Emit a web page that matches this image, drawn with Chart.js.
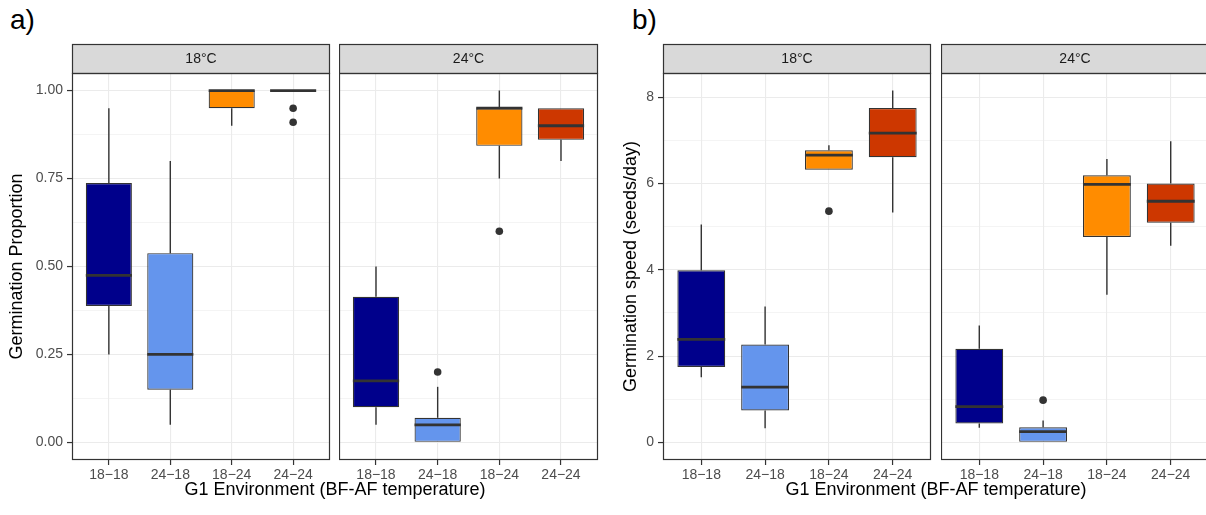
<!DOCTYPE html>
<html><head><meta charset="utf-8">
<script src="https://cdn.jsdelivr.net/npm/chart.js@4.4.1/dist/chart.umd.min.js"></script>
<style>
html,body{margin:0;padding:0;background:#fff;width:1206px;height:515px;overflow:hidden;position:relative;font-family:"Liberation Sans",Arial,sans-serif;}
canvas.fc{position:absolute;top:0;}
.lbl{position:absolute;font-size:28px;line-height:1;color:#000;}
.xt{position:absolute;font-size:18px;line-height:20px;color:#000;text-align:center;white-space:nowrap;}
</style></head><body>
<div class="lbl" style="left:10px;top:6px">a)</div>
<div class="lbl" style="left:632px;top:6px">b)</div>
<canvas id="a1" class="fc" style="left:0px" width="331" height="515"></canvas>
<canvas id="a2" class="fc" style="left:339px" width="260" height="515"></canvas>
<canvas id="b1" class="fc" style="left:600px" width="332" height="515"></canvas>
<canvas id="b2" class="fc" style="left:941px" width="269" height="515"></canvas>
<div class="xt" style="left:72px;width:526px;top:479px">G1 Environment (BF-AF temperature)</div>
<div class="xt" style="left:663px;width:546px;top:479px">G1 Environment (BF-AF temperature)</div>
<script>
// ---- data ----
const categories = ['18\u221218', '24\u221218', '18\u221224', '24\u221224'];
const boxColors = ['#00008B', '#6495ED', '#FF8C00', '#CD3700'];
const facetLabels = ['18°C', '24°C'];
// five-number summaries per category: [lower whisker, Q1, median, Q3, upper whisker]
const proportionAt18 = [[0.25, 0.388, 0.475, 0.737, 0.95], [0.05, 0.15, 0.25, 0.538, 0.80], [0.90, 0.95, 1.00, 1.00, 1.00], [1.00, 1.00, 1.00, 1.00, 1.00]];
const proportionAt18Outliers = [[], [], [], [0.95, 0.91]];
const proportionAt24 = [[0.05, 0.10, 0.175, 0.414, 0.50], [0.00, 0.00, 0.05, 0.07, 0.158], [0.75, 0.843, 0.95, 0.95, 1.00], [0.80, 0.86, 0.90, 0.95, 0.95]];
const proportionAt24Outliers = [[], [0.20], [0.60], []];
const speedAt18 = [[1.51, 1.75, 2.39, 3.99, 5.05], [0.33, 0.74, 1.28, 2.27, 3.15], [6.32, 6.32, 6.66, 6.77, 6.89], [5.33, 6.61, 7.17, 7.75, 8.155]];
const speedAt18Outliers = [[], [], [5.36], []];
const speedAt24 = [[0.34, 0.44, 0.83, 2.17, 2.71], [0.00, 0.00, 0.25, 0.35, 0.51], [3.42, 4.76, 5.98, 6.19, 6.57], [4.56, 5.09, 5.59, 6.00, 6.98]];
const speedAt24Outliers = [[], [0.98], [], []];
const proportionTicks = [0, 0.25, 0.5, 0.75, 1];
const speedTicks = [0, 2, 4, 6, 8];
const proportionTitle = 'Germination Proportion';
const speedTitle = 'Germination speed (seeds/day)';

const FAMILY = '"Liberation Sans", Arial, sans-serif';
const DARK = '#333333';

function dataRange(groups) {
  let lo = Infinity, hi = -Infinity;
  groups.forEach(g => g.forEach(arr => arr.forEach(v => { lo = Math.min(lo, v); hi = Math.max(hi, v); })));
  const pad = (hi - lo) * 0.05;
  return [lo - pad, hi + pad];
}

function withMinor(ticks) {
  const out = [];
  ticks.forEach((t, i) => {
    out.push({ value: t, minor: false });
    if (i < ticks.length - 1) out.push({ value: (t + ticks[i + 1]) / 2, minor: true });
  });
  return out;
}

function makeBoxPlugin(stats, stripText) {
  return {
    id: 'boxplotDraw',
    beforeDatasetsDraw(chart) {
      const xs = chart.scales.x, ys = chart.scales.y, ctx = chart.ctx;
      ctx.save();
      ctx.strokeStyle = DARK; ctx.lineWidth = 1.4;
      stats.forEach((s, i) => {
        const x = xs.getPixelForValue(i);
        ctx.beginPath();
        ctx.moveTo(x, ys.getPixelForValue(s[0])); ctx.lineTo(x, ys.getPixelForValue(s[1]));
        ctx.moveTo(x, ys.getPixelForValue(s[3])); ctx.lineTo(x, ys.getPixelForValue(s[4]));
        ctx.stroke();
      });
      ctx.restore();
    },
    afterDatasetsDraw(chart) {
      const xs = chart.scales.x, ys = chart.scales.y, ctx = chart.ctx;
      const meta = chart.getDatasetMeta(0);
      ctx.save();
      ctx.strokeStyle = DARK; ctx.lineWidth = 2.8; ctx.lineCap = 'butt';
      stats.forEach((s, i) => {
        const el = meta.data[i];
        const w = el.width;
        const x = xs.getPixelForValue(i);
        const y = ys.getPixelForValue(s[2]);
        ctx.beginPath();
        ctx.moveTo(x - w / 2, y); ctx.lineTo(x + w / 2, y);
        ctx.stroke();
      });
      ctx.restore();
    },
    afterDraw(chart) {
      const a = chart.chartArea, ctx = chart.ctx;
      ctx.save();
      ctx.lineWidth = 1.2; ctx.strokeStyle = DARK;
      ctx.fillStyle = '#D9D9D9';
      ctx.fillRect(a.left, 44, a.right - a.left, a.top - 44);
      ctx.strokeRect(a.left + 0.5, 44.5, a.right - a.left - 1, a.top - 44);
      ctx.strokeRect(a.left + 0.5, a.top + 0.5, a.right - a.left - 1, a.bottom - a.top - 1);
      ctx.fillStyle = '#1A1A1A';
      ctx.font = '14px ' + FAMILY;
      ctx.textAlign = 'center'; ctx.textBaseline = 'middle';
      ctx.fillText(stripText, (a.left + a.right) / 2, (44 + a.top) / 2 + 1);
      ctx.restore();
    }
  };
}

function makeFacet(id, stats, outliers, o) {
  const boxData = stats.map((s, i) => ({ x: i, y: [s[1], s[3]] }));
  const outData = [];
  outliers.forEach((arr, i) => arr.forEach(v => outData.push({ x: i, y: v })));
  const yTicks = withMinor(o.ticks);
  new Chart(document.getElementById(id), {
    type: 'bar',
    data: {
      datasets: [
        { type: 'bar', data: boxData, backgroundColor: boxColors, borderColor: DARK, borderWidth: 1.2,
          borderSkipped: false, barPercentage: 0.75, categoryPercentage: 1, grouped: false, order: 2 },
        { type: 'scatter', data: outData, pointRadius: 3.8, pointHoverRadius: 3.8, pointBackgroundColor: DARK,
          pointBorderWidth: 0, order: 1 }
      ]
    },
    plugins: [makeBoxPlugin(stats, o.strip)],
    options: {
      responsive: false, animation: false, devicePixelRatio: 1, events: [],
      layout: { autoPadding: false, padding: { top: 73, left: o.padLeft, right: 1, bottom: 0 } },
      plugins: { legend: { display: false }, tooltip: { enabled: false } },
      scales: {
        x: {
          type: 'linear', min: -0.6, max: 3.6, offset: false,
          afterBuildTicks: s => { s.ticks = categories.map((c, i) => ({ value: i })); },
          afterFit: s => { s.height = 55; s.paddingLeft = 0; s.paddingRight = 0; },
          grid: { offset: false, color: '#EBEBEB', lineWidth: 1.1, tickLength: 5, tickColor: DARK, tickWidth: 1.2 },
          border: { display: false },
          ticks: { callback: v => categories[v], color: '#4D4D4D', font: { size: 14, family: FAMILY },
            padding: 2, maxRotation: 0, autoSkip: false }
        },
        y: {
          type: 'linear', min: o.range[0], max: o.range[1],
          afterBuildTicks: s => { s.ticks = yTicks.map(t => ({ value: t.value, minor: t.minor })); },
          afterFit: s => { s.width = o.yWidth; },
          grid: {
            color: '#EBEBEB',
            lineWidth: c => (c.tick && c.tick.minor) ? 0.55 : 1.1,
            drawTicks: o.showY, tickLength: 5,
            tickColor: c => (c.tick && c.tick.minor) ? 'rgba(0,0,0,0)' : DARK, tickWidth: 1.2
          },
          border: { display: false },
          ticks: {
            display: o.showY, autoSkip: false, color: '#4D4D4D', font: { size: 14, family: FAMILY }, padding: 4,
            callback: function (v, i, ticks) { return ticks[i].minor ? '' : o.fmt(v); }
          },
          title: { display: o.showY, text: o.title, color: '#000', font: { size: 18, family: FAMILY }, padding: { top: 6, bottom: 0 } }
        }
      }
    }
  });
}

const propRange = dataRange([proportionAt18, proportionAt18Outliers, proportionAt24, proportionAt24Outliers]);
const speedRange = dataRange([speedAt18, speedAt18Outliers, speedAt24, speedAt24Outliers]);
const fmtProp = v => v.toFixed(2);
const fmtSpeed = v => String(v);

makeFacet('a1', proportionAt18, proportionAt18Outliers, { strip: facetLabels[0], range: propRange, ticks: proportionTicks, fmt: fmtProp, showY: true, yWidth: 72, padLeft: 0, title: proportionTitle });
makeFacet('a2', proportionAt24, proportionAt24Outliers, { strip: facetLabels[1], range: propRange, ticks: proportionTicks, fmt: fmtProp, showY: false, yWidth: 0, padLeft: 0, title: proportionTitle });
makeFacet('b1', speedAt18, speedAt18Outliers, { strip: facetLabels[0], range: speedRange, ticks: speedTicks, fmt: fmtSpeed, showY: true, yWidth: 49, padLeft: 14, title: speedTitle });
makeFacet('b2', speedAt24, speedAt24Outliers, { strip: facetLabels[1], range: speedRange, ticks: speedTicks, fmt: fmtSpeed, showY: false, yWidth: 0, padLeft: 0, title: speedTitle });
</script>
</body></html>
